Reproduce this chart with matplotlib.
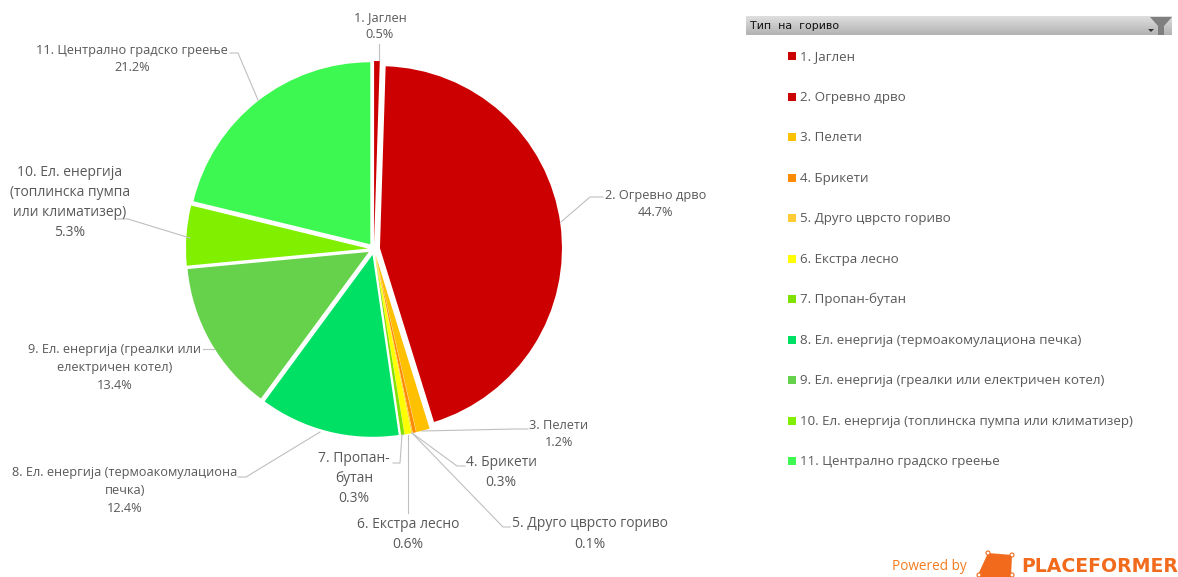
import numpy as np
import matplotlib
matplotlib.use('Agg')
import matplotlib.pyplot as plt
from matplotlib.patches import Polygon, Rectangle, Circle

W, H = 1178, 577
plt.rcParams['font.family'] = ['Open Sans', 'DejaVu Sans']

fuels = ['1. Јаглен', '2. Огревно дрво', '3. Пелети', '4. Брикети',
         '5. Друго цврсто гориво', '6. Екстра лесно', '7. Пропан-бутан',
         '8. Ел. енергија (термоакомулациона печка)',
         '9. Ел. енергија (греалки или електричен котел)',
         '10. Ел. енергија (топлинска пумпа или климатизер)',
         '11. Централно градско греење']
shares = [0.5, 44.7, 1.2, 0.3, 0.1, 0.6, 0.3, 12.4, 13.4, 5.3, 21.2]
colors = ['#CC0000', '#CC0000', '#FFC000', '#FF8C00', '#FFCC33', '#FFFF00',
          '#80E000', '#00E064', '#66D24C', '#80F000', '#3CF850']

# wrapped slice labels as they sit around the pie
pie_labels = ['1. Јаглен', '2. Огревно дрво', '3. Пелети', '4. Брикети',
              '5. Друго цврсто гориво', '6. Екстра лесно', '7. Пропан-\nбутан',
              '8. Ел. енергија (термоакомулациона\nпечка)',
              '9. Ел. енергија (греалки или\nелектричен котел)',
              '10. Ел. енергија\n(топлинска пумпа\nили климатизер)',
              '11. Централно градско греење']
label_xy = [(380, 11), (656, 189), (559, 419), (501, 455), (590, 516), (408, 517),
            (354, 451), (125, 466), (115, 343), (70, 165), (132, 44)]
label_spacing = [1.4, 1.4, 1.4, 1.5, 1.5, 1.5, 1.45, 1.48, 1.48, 1.45, 1.4]
label_size = [9.2, 9.2, 9.2, 10, 10, 10, 10, 9.2, 9.2, 10, 9.2]
leaders = [[(379, 44), (379, 60)],
           [(603, 197), (590, 197), (561, 222)],
           [(528, 429), (515, 429), (422, 431)],
           [(465, 466), (457, 466), (412, 433)],
           [(510, 527), (503, 527), (412, 433)],
           [(408, 513), (408, 435)],
           [(393, 463), (400, 463), (402, 435)],
           [(238, 477), (246, 477), (320, 432)],
           [(203, 349), (214, 349)],
           [(117, 219), (128, 219), (190, 238)],
           [(230, 53), (238, 53), (258, 100)]]


def py(y):
    return H - y


fig = plt.figure(figsize=(W / 100, H / 100), dpi=100)
ax = fig.add_axes([0, 0, 1, 1])

ax.pie(shares, colors=colors, startangle=90, counterclock=False,
       radius=182, center=(374, py(249)), explode=[6] * len(shares),
       wedgeprops=dict(linewidth=0))

for pts in leaders:
    ax.plot([p[0] for p in pts], [py(p[1]) for p in pts], color='#BFBFBF', lw=0.8, zorder=3)

for txt, share, (x, y), sp, fs in zip(pie_labels, shares, label_xy, label_spacing, label_size):
    ax.text(x, py(y), f'{txt}\n{share}%', ha='center', va='top', fontsize=fs,
            color='#595959', linespacing=sp, zorder=4)

# filter header
grad = np.linspace(0.87, 0.70, 32).reshape(-1, 1)
ax.imshow(grad, extent=(746, 1172, py(35), py(16)), cmap='gray', vmin=0, vmax=1,
          aspect='auto', zorder=1)
ax.text(750, py(26), 'Тип  на  гориво', fontsize=7.9, color='#111111', va='center', ha='left',
        family=['DejaVu Sans'])
ax.add_patch(Polygon([(1150, py(17)), (1172, py(17)), (1164, py(26)), (1164, py(35)),
                      (1158, py(35)), (1158, py(26))], color='#7F7F7F', lw=0, zorder=2))
ax.add_patch(Polygon([(1148, py(29)), (1154, py(29)), (1151, py(32))], color='#333333', lw=0, zorder=2))

# legend
legend_top = 56
legend_step = 40.5
for i, (name, c) in enumerate(zip(fuels, colors)):
    y = legend_top + i * legend_step
    ax.add_patch(Rectangle((788, py(y + 4)), 8, 8, color=c, lw=0))
    ax.text(800, py(y + 0.8), name, fontsize=9.63, color='#595959', va='center', ha='left')

# footer logo
ax.text(892, py(567), 'Powered by', fontsize=9.8, color='#F47B20', va='center', ha='left')
ax.add_patch(Polygon([(988, py(553)), (1012, py(555)), (1011, py(577)), (977, py(577))],
                     color='#F26A1B', lw=0))
for cx, cy in [(988, 553), (1012, 555), (1012, 575), (979, 575)]:
    ax.add_patch(Circle((cx, py(cy)), 2, fc='white', ec='#F26A1B', lw=0.8, zorder=3))
ax.text(1021, py(566), 'PLACEFORMER', fontsize=13.6, fontweight='bold', color='#F26A1B',
        va='center', ha='left', family=['DejaVu Sans'])

ax.set_xlim(0, W)
ax.set_ylim(0, H)
ax.set_aspect('auto')
ax.axis('off')
fig.savefig('out.png', dpi=100)
